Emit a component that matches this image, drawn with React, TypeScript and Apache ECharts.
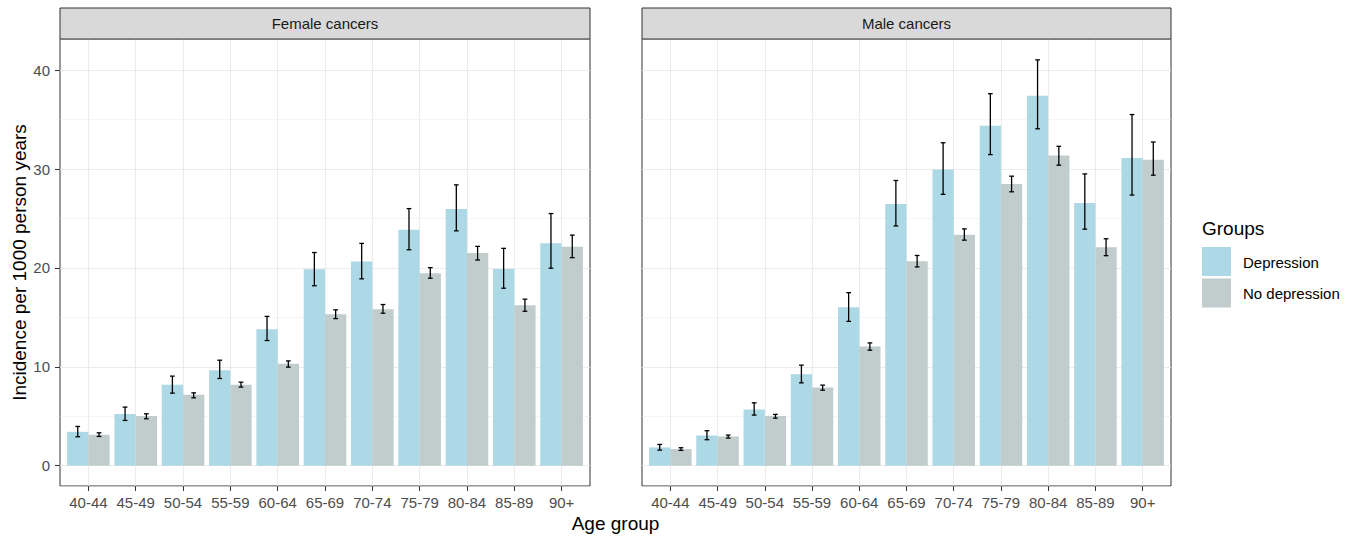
import React, { useEffect, useRef } from 'react';
import * as echarts from 'echarts';

const categories = ['40-44', '45-49', '50-54', '55-59', '60-64', '65-69', '70-74', '75-79', '80-84', '85-89', '90+'];
const panelTitles = ['Female cancers', 'Male cancers'];
const groups = ['Depression', 'No depression'];
const yTickValues = [0, 10, 20, 30, 40];

const femaleDep = [3.43, 5.22, 8.18, 9.66, 13.8, 19.87, 20.66, 23.85, 25.96, 19.9, 22.5];
const femaleDepLow = [2.93, 4.58, 7.34, 8.82, 12.66, 18.2, 18.9, 21.84, 23.75, 17.95, 19.97];
const femaleDepHigh = [3.97, 5.93, 9.06, 10.67, 15.1, 21.56, 22.48, 26.0, 28.4, 21.98, 25.5];
const femaleNoDep = [3.13, 5.02, 7.17, 8.18, 10.3, 15.32, 15.82, 19.46, 21.5, 16.23, 22.14];
const femaleNoDepLow = [2.96, 4.75, 6.87, 7.95, 9.97, 14.88, 15.42, 18.96, 20.8, 15.62, 21.04];
const femaleNoDepHigh = [3.33, 5.25, 7.37, 8.45, 10.6, 15.76, 16.3, 20.03, 22.18, 16.84, 23.32];

const maleDep = [1.85, 3.06, 5.69, 9.26, 16.03, 26.47, 29.95, 34.37, 37.42, 26.57, 31.12];
const maleDepLow = [1.58, 2.63, 5.12, 8.38, 14.6, 24.25, 27.44, 31.46, 34.07, 23.92, 27.37];
const maleDepHigh = [2.15, 3.54, 6.36, 10.17, 17.5, 28.84, 32.66, 37.62, 41.04, 29.51, 35.51];
const maleNoDep = [1.68, 2.96, 5.02, 7.91, 12.05, 20.67, 23.35, 28.48, 31.36, 22.08, 30.95];
const maleNoDepLow = [1.55, 2.8, 4.81, 7.64, 11.68, 20.1, 22.81, 27.7, 30.39, 21.24, 29.38];
const maleNoDepHigh = [1.82, 3.1, 5.19, 8.15, 12.42, 21.26, 23.95, 29.28, 32.3, 22.95, 32.73];

const FONT = '"Liberation Sans", Arial, Helvetica, sans-serif';
const COLORS = ['#ADD8E6', '#C1CDCD'];
const OFFSETS = [-0.225, 0.225];
const HALF_BAR = 0.225;
const CAP = 0.05;
const Y_MIN = -2.05;
const Y_MAX = 43.15;

const PANEL_LEFT = [60, 642];
const PANEL_WIDTH = [530, 529];
const PANEL_TOP = 39;
const PANEL_HEIGHT = 447;
const STRIP_TOP = 8;

const panelData = [
  [
    { val: femaleDep, low: femaleDepLow, high: femaleDepHigh },
    { val: femaleNoDep, low: femaleNoDepLow, high: femaleNoDepHigh },
  ],
  [
    { val: maleDep, low: maleDepLow, high: maleDepHigh },
    { val: maleNoDep, low: maleNoDepLow, high: maleNoDepHigh },
  ],
];

export default function App() {
  const ref = useRef<HTMLDivElement>(null);

  useEffect(() => {
    if (!ref.current) return;
    const chart = echarts.init(ref.current, null, { renderer: 'svg' });

    const grids: any[] = [];
    const xAxes: any[] = [];
    const yAxes: any[] = [];
    const series: any[] = [];
    const graphics: any[] = [];

    panelTitles.forEach((title, p) => {
      grids.push({
        left: PANEL_LEFT[p],
        top: PANEL_TOP,
        width: PANEL_WIDTH[p],
        height: PANEL_HEIGHT,
        show: true,
        backgroundColor: '#FFFFFF',
        borderColor: '#333333',
        borderWidth: 1,
        containLabel: false,
      });
      xAxes.push({
        type: 'value',
        gridIndex: p,
        position: 'bottom',
        min: -0.6,
        max: 10.6,
        splitNumber: 11,
        axisLine: { show: false, onZero: false },
        axisTick: {
          show: true,
          length: 5,
          customValues: categories.map((_, i) => i),
          lineStyle: { color: '#333333', width: 1 },
        },
        axisLabel: {
          show: true,
          customValues: categories.map((_, i) => i),
          margin: 9,
          color: '#4D4D4D',
          fontSize: 15,
          fontFamily: FONT,
          formatter: (v: number) => {
            const k = Math.round(v);
            return Math.abs(v - k) < 1e-6 && categories[k] ? categories[k] : '';
          },
        },
        splitLine: { show: true, lineStyle: { color: '#EBEBEB', width: 1.1 } },
      });
    });

    // major y axes
    panelTitles.forEach((_, p) => {
      yAxes.push({
        type: 'value',
        gridIndex: p,
        position: 'left',
        min: Y_MIN,
        max: Y_MAX,
        splitNumber: 5,
        axisLine: { show: false, onZero: false },
        axisTick: {
          show: p === 0,
          length: 5,
          customValues: yTickValues,
          lineStyle: { color: '#333333', width: 1 },
        },
        axisLabel: {
          show: p === 0,
          customValues: yTickValues,
          margin: 10,
          color: '#4D4D4D',
          fontSize: 15,
          fontFamily: FONT,
        },
        splitLine: { show: true, lineStyle: { color: '#EBEBEB', width: 1.1 } },
      });
    });
    // minor y axes (grid lines only)
    panelTitles.forEach((_, p) => {
      yAxes.push({
        type: 'value',
        gridIndex: p,
        position: 'left',
        min: Y_MIN,
        max: Y_MAX,
        splitNumber: 9,
        axisLine: { show: false, onZero: false },
        axisTick: { show: false },
        axisLabel: { show: false },
        splitLine: { show: true, lineStyle: { color: '#EBEBEB', width: 0.55 } },
      });
    });

    panelTitles.forEach((title, p) => {
      groups.forEach((g, gi) => {
        const d = panelData[p][gi];
        const off = OFFSETS[gi];
        series.push({
          type: 'custom',
          name: g,
          xAxisIndex: p,
          yAxisIndex: p,
          z: 2,
          itemStyle: { color: COLORS[gi] },
          data: categories.map((_, i) => [i, d.val[i]]),
          renderItem: (params: any, api: any) => {
            const i = api.value(0) as number;
            const v = api.value(1) as number;
            const p0 = api.coord([i + off - HALF_BAR, v]);
            const p1 = api.coord([i + off + HALF_BAR, 0]);
            return {
              type: 'rect',
              shape: { x: p0[0], y: p0[1], width: p1[0] - p0[0], height: p1[1] - p0[1] },
              style: { fill: COLORS[gi] },
            };
          },
        });
      });
      groups.forEach((g, gi) => {
        const d = panelData[p][gi];
        const off = OFFSETS[gi];
        series.push({
          type: 'custom',
          name: g + ' CI',
          xAxisIndex: p,
          yAxisIndex: p,
          z: 3,
          data: categories.map((_, i) => [i, d.low[i], d.high[i]]),
          renderItem: (params: any, api: any) => {
            const i = api.value(0) as number;
            const lo = api.value(1) as number;
            const hi = api.value(2) as number;
            const x = i + off;
            const top = api.coord([x, hi]);
            const bot = api.coord([x, lo]);
            const cl = api.coord([x - CAP, hi])[0];
            const cr = api.coord([x + CAP, hi])[0];
            const style = { stroke: '#000000', lineWidth: 1.3 };
            return {
              type: 'group',
              children: [
                { type: 'line', shape: { x1: top[0], y1: top[1], x2: bot[0], y2: bot[1] }, style },
                { type: 'line', shape: { x1: cl, y1: top[1], x2: cr, y2: top[1] }, style },
                { type: 'line', shape: { x1: cl, y1: bot[1], x2: cr, y2: bot[1] }, style },
              ],
            };
          },
        });
      });

      // strip
      graphics.push({
        type: 'rect',
        shape: { x: PANEL_LEFT[p], y: STRIP_TOP, width: PANEL_WIDTH[p], height: PANEL_TOP - STRIP_TOP },
        style: { fill: '#D9D9D9', stroke: '#333333', lineWidth: 1 },
        z: 10,
      });
      graphics.push({
        type: 'text',
        x: PANEL_LEFT[p] + PANEL_WIDTH[p] / 2,
        y: (STRIP_TOP + PANEL_TOP) / 2,
        style: {
          text: title,
          fill: '#1A1A1A',
          font: `15px ${FONT}`,
          align: 'center',
          verticalAlign: 'middle',
        },
        z: 11,
      });
    });

    // axis titles
    graphics.push({
      type: 'text',
      x: (PANEL_LEFT[0] + PANEL_LEFT[1] + PANEL_WIDTH[1]) / 2,
      y: 523,
      style: {
        text: 'Age group',
        fill: '#000000',
        font: `19px ${FONT}`,
        align: 'center',
        verticalAlign: 'middle',
      },
    });
    graphics.push({
      type: 'text',
      x: 19,
      y: PANEL_TOP + PANEL_HEIGHT / 2,
      rotation: Math.PI / 2,
      style: {
        text: 'Incidence per 1000 person years',
        fill: '#000000',
        font: `19px ${FONT}`,
        align: 'center',
        verticalAlign: 'middle',
      },
    });

    // legend
    graphics.push({
      type: 'text',
      x: 1202,
      y: 228,
      style: { text: 'Groups', fill: '#000000', font: `19px ${FONT}`, align: 'left', verticalAlign: 'middle' },
    });
    groups.forEach((g, gi) => {
      const top = 247 + gi * 31.5;
      graphics.push({
        type: 'rect',
        shape: { x: 1202, y: top, width: 29, height: 29 },
        style: { fill: COLORS[gi] },
      });
      graphics.push({
        type: 'text',
        x: 1243,
        y: top + 15,
        style: { text: g, fill: '#000000', font: `15px ${FONT}`, align: 'left', verticalAlign: 'middle' },
      });
    });

    chart.setOption({
      animation: false,
      backgroundColor: '#FFFFFF',
      textStyle: { fontFamily: FONT },
      grid: grids,
      xAxis: xAxes,
      yAxis: yAxes,
      series,
      graphic: graphics,
    });

    return () => chart.dispose();
  }, []);

  return (
    <div
      ref={ref}
      style={{ position: 'fixed', left: 0, top: 0, width: 1357, height: 539 }}
    />
  );
}
